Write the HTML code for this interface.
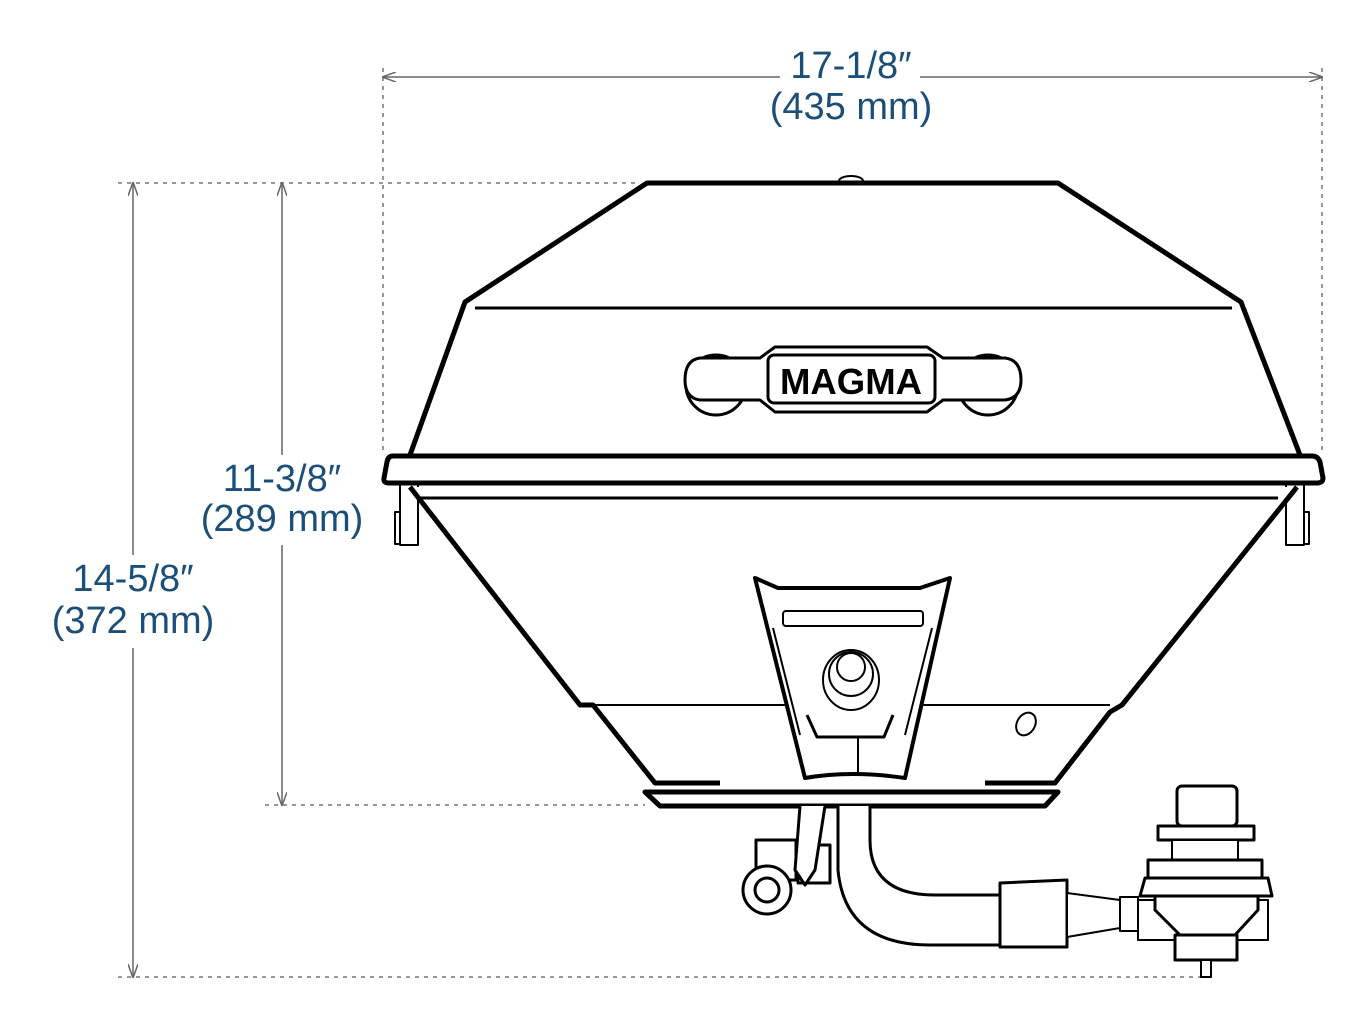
<!DOCTYPE html>
<html><head><style>
html,body{margin:0;padding:0;background:#fff;}
svg{display:block;}
.t{font-family:"Liberation Sans",sans-serif;fill:#1b4f7a;font-size:38px;text-anchor:middle;}
</style></head><body>
<svg width="1366" height="1020" viewBox="0 0 1366 1020" xmlns="http://www.w3.org/2000/svg">
<defs>
<marker id="a" markerWidth="14" markerHeight="10" refX="13" refY="5" orient="auto-start-reverse" markerUnits="userSpaceOnUse">
<path d="M0,0 L14,5 L0,10" fill="none" stroke="#666" stroke-width="1.5"/></marker>
</defs>
<g stroke="#777" stroke-width="1.5" stroke-dasharray="4,5" fill="none">
<line x1="383" y1="68" x2="383" y2="455"/>
<line x1="1322" y1="68" x2="1322" y2="455"/>
<line x1="118" y1="183" x2="640" y2="183"/>
<line x1="265" y1="805" x2="645" y2="805"/>
<line x1="118" y1="977" x2="1205" y2="977"/>
</g>
<g stroke="#666" stroke-width="1.5" fill="none">
<line x1="383" y1="77" x2="780" y2="77" marker-start="url(#a)"/>
<line x1="920" y1="77" x2="1322" y2="77" marker-end="url(#a)"/>
<line x1="133" y1="183" x2="133" y2="555" marker-start="url(#a)"/>
<line x1="133" y1="648" x2="133" y2="977" marker-end="url(#a)"/>
<line x1="282" y1="183" x2="282" y2="455" marker-start="url(#a)"/>
<line x1="282" y1="545" x2="282" y2="805" marker-end="url(#a)"/>
</g>
<text class="t" x="851" y="78">17-1/8″</text>
<text class="t" x="851" y="119">(435 mm)</text>
<text class="t" x="282" y="491">11-3/8″</text>
<text class="t" x="282" y="531">(289 mm)</text>
<text class="t" x="133" y="591">14-5/8″</text>
<text class="t" x="133" y="633">(372 mm)</text>

<g stroke="#000" fill="#fff" stroke-linejoin="round">
<ellipse cx="851" cy="181" rx="12" ry="5" stroke-width="2"/>
<path d="M410,455 L465,302 L647,183 L1058,183 L1241,302 L1300,455" stroke-width="5"/>
<line x1="475" y1="308" x2="1232" y2="308" stroke-width="3"/>
<circle cx="716" cy="385" r="30" stroke-width="3"/>
<circle cx="988" cy="385" r="30" stroke-width="3"/>
<path d="M700,358 L760,358 L775,347 L927,347 L943,358 L1005,358 Q1021,360 1021,380 Q1021,398 1005,400 L943,400 L927,412 L775,412 L760,400 L700,400 Q685,398 685,380 Q685,360 700,358 Z" stroke-width="3"/>
<rect x="768" y="355" width="167" height="48" rx="6" stroke-width="3"/>
<text x="851" y="394" font-family="Liberation Sans,sans-serif" font-weight="bold" font-size="36" text-anchor="middle" fill="#000" stroke="none" textLength="142" lengthAdjust="spacingAndGlyphs">MAGMA</text>
<rect x="395" y="512" width="14" height="32" stroke-width="2"/>
<rect x="400" y="483" width="18" height="62" stroke-width="2"/>
<rect x="1295" y="512" width="14" height="32" stroke-width="2"/>
<rect x="1286" y="483" width="18" height="62" stroke-width="2"/>
<path d="M410,487 L580,705 L593,705 L655,783 L1055,783 L1110,712 L1122,705 L1297,487 Z" stroke="none"/>
<path d="M410,487 L580,705 L593,705 L655,783 L720,783 M985,783 L1055,783 L1110,712 L1122,705 L1297,487" stroke-width="5" fill="none"/>
<line x1="593" y1="705" x2="1110" y2="705" stroke-width="2"/>
<line x1="420" y1="498" x2="1278" y2="498" stroke-width="3"/>
<path d="M393,456 L1312,456 Q1318,456 1320,462 L1323,478 Q1323,483 1317,483 L389,483 Q383,483 384,478 L387,462 Q388,456 393,456 Z" stroke-width="5"/>
<ellipse cx="1026" cy="724" rx="9" ry="12" transform="rotate(30 1026 724)" stroke-width="2"/>
<path d="M755,578 L778,588 L920,588 L950,578 L905,778 Q851,770 805,778 Z" stroke-width="4"/>
<rect x="783" y="611" width="140" height="15" rx="3" stroke-width="2"/>
<path d="M773,628 L800,735 M932,628 L905,735" stroke-width="2"/>
<path d="M807,715 L817,737 L884,737 L893,715" stroke-width="3" fill="none"/>
<line x1="858" y1="737" x2="858" y2="772" stroke-width="2"/>
<ellipse cx="851" cy="680" rx="28" ry="30" stroke-width="2"/>
<ellipse cx="851" cy="674" rx="22" ry="22" stroke-width="2"/>
<ellipse cx="851" cy="667" rx="14" ry="14" stroke-width="2"/>
<path d="M645,792 L1058,792 L1045,806 L660,806 Z" stroke-width="5"/>
<path d="M838,806 L838,870 Q845,945 930,945 L1000,945 L1000,895 L935,895 Q870,895 870,840 L870,806" stroke-width="3"/>
<rect x="756" y="840" width="40" height="40" stroke-width="3"/>
<rect x="798" y="845" width="32" height="38" stroke-width="3"/>
<path d="M800,806 L795,870 L805,885 L815,870 L825,806" stroke-width="3"/>
<circle cx="767" cy="890" r="24" stroke-width="3"/>
<circle cx="767" cy="890" r="12" stroke-width="3"/>
<path d="M1000,883 L1067,880 L1067,947 L1000,947 Z" stroke-width="3"/>
<path d="M1067,893 L1120,900 L1120,928 L1067,937 Z" stroke-width="2"/>
<rect x="1120" y="897" width="18" height="34" stroke-width="2"/>
<rect x="1138" y="900" width="130" height="40" stroke-width="2"/>
<rect x="1177" y="786" width="60" height="40" rx="5" stroke-width="3"/>
<rect x="1158" y="826" width="96" height="14" stroke-width="3"/>
<rect x="1172" y="840" width="66" height="20" stroke-width="2"/>
<rect x="1148" y="860" width="114" height="20" stroke-width="3"/>
<path d="M1145,878 L1268,878 L1272,896 L1140,896 Z" stroke-width="3"/>
<path d="M1155,896 L1258,896 L1258,910 L1235,935 L1180,935 L1155,910 Z" stroke-width="3"/>
<rect x="1175" y="935" width="62" height="25" stroke-width="3"/>
<rect x="1201" y="960" width="10" height="17" stroke-width="2"/>
</g>
</svg>
</body></html>
